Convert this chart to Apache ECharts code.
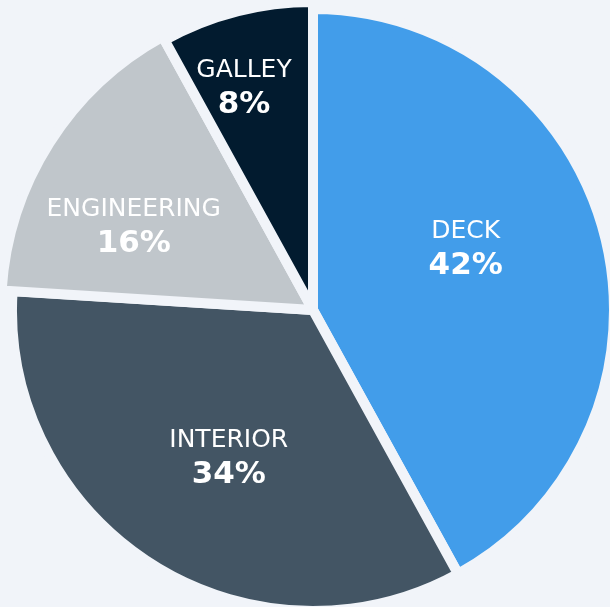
<!DOCTYPE html>
<html>
<head>
<meta charset="utf-8">
<script src="https://cdn.jsdelivr.net/npm/echarts@6/dist/echarts.min.js"></script>
<style>
html, body { margin: 0; padding: 0; background: #f1f4f9; }
#main { width: 610px; height: 607px; }
</style>
</head>
<body>
<div id="main"></div>
<script>
var categories = ['DECK', 'INTERIOR', 'ENGINEERING', 'GALLEY'];
var shares = [42, 34, 16, 8];
var colors = ['#429dea', '#435564', '#c0c6cb', '#021b2f'];
// engineering + galley stick out a little past the others
var radii = [301, 301, 312, 308];
var labelShift = [[4, -23], [-2, 18], [-45, 2], [-30, -70]];

var bg = '#f1f4f9';
var myChart = echarts.init(document.getElementById('main'));

// one pie per slice so each slice can get its own radius,
// the other slices in that pie are left transparent
var series = categories.map(function (name, k) {
  return {
    type: 'pie',
    center: [313, 310],
    radius: [0, radii[k]],
    startAngle: 90,
    clockwise: true,
    silent: true,
    emphasis: { disabled: true },
    labelLine: { show: false },
    labelLayout: { dx: labelShift[k][0], dy: labelShift[k][1] },
    data: categories.map(function (c, i) {
      var mine = i === k;
      return {
        name: c,
        value: shares[i],
        itemStyle: mine
          ? { color: colors[i], borderColor: bg, borderWidth: 10 }
          : { color: 'transparent', borderWidth: 0 },
        label: mine
          ? {
              show: true,
              position: 'inside',
              formatter: '{n|{b}}\n{p|{c}%}',
              rich: {
                n: { color: '#fff', fontFamily: 'DejaVu Sans', fontSize: 25, lineHeight: 34 },
                p: { color: '#fff', fontFamily: 'DejaVu Sans', fontWeight: 'bold', fontSize: 31, lineHeight: 34 }
              }
            }
          : { show: false }
      };
    })
  };
});

myChart.setOption({
  backgroundColor: bg,
  animation: false,
  series: series
});
</script>
</body>
</html>
